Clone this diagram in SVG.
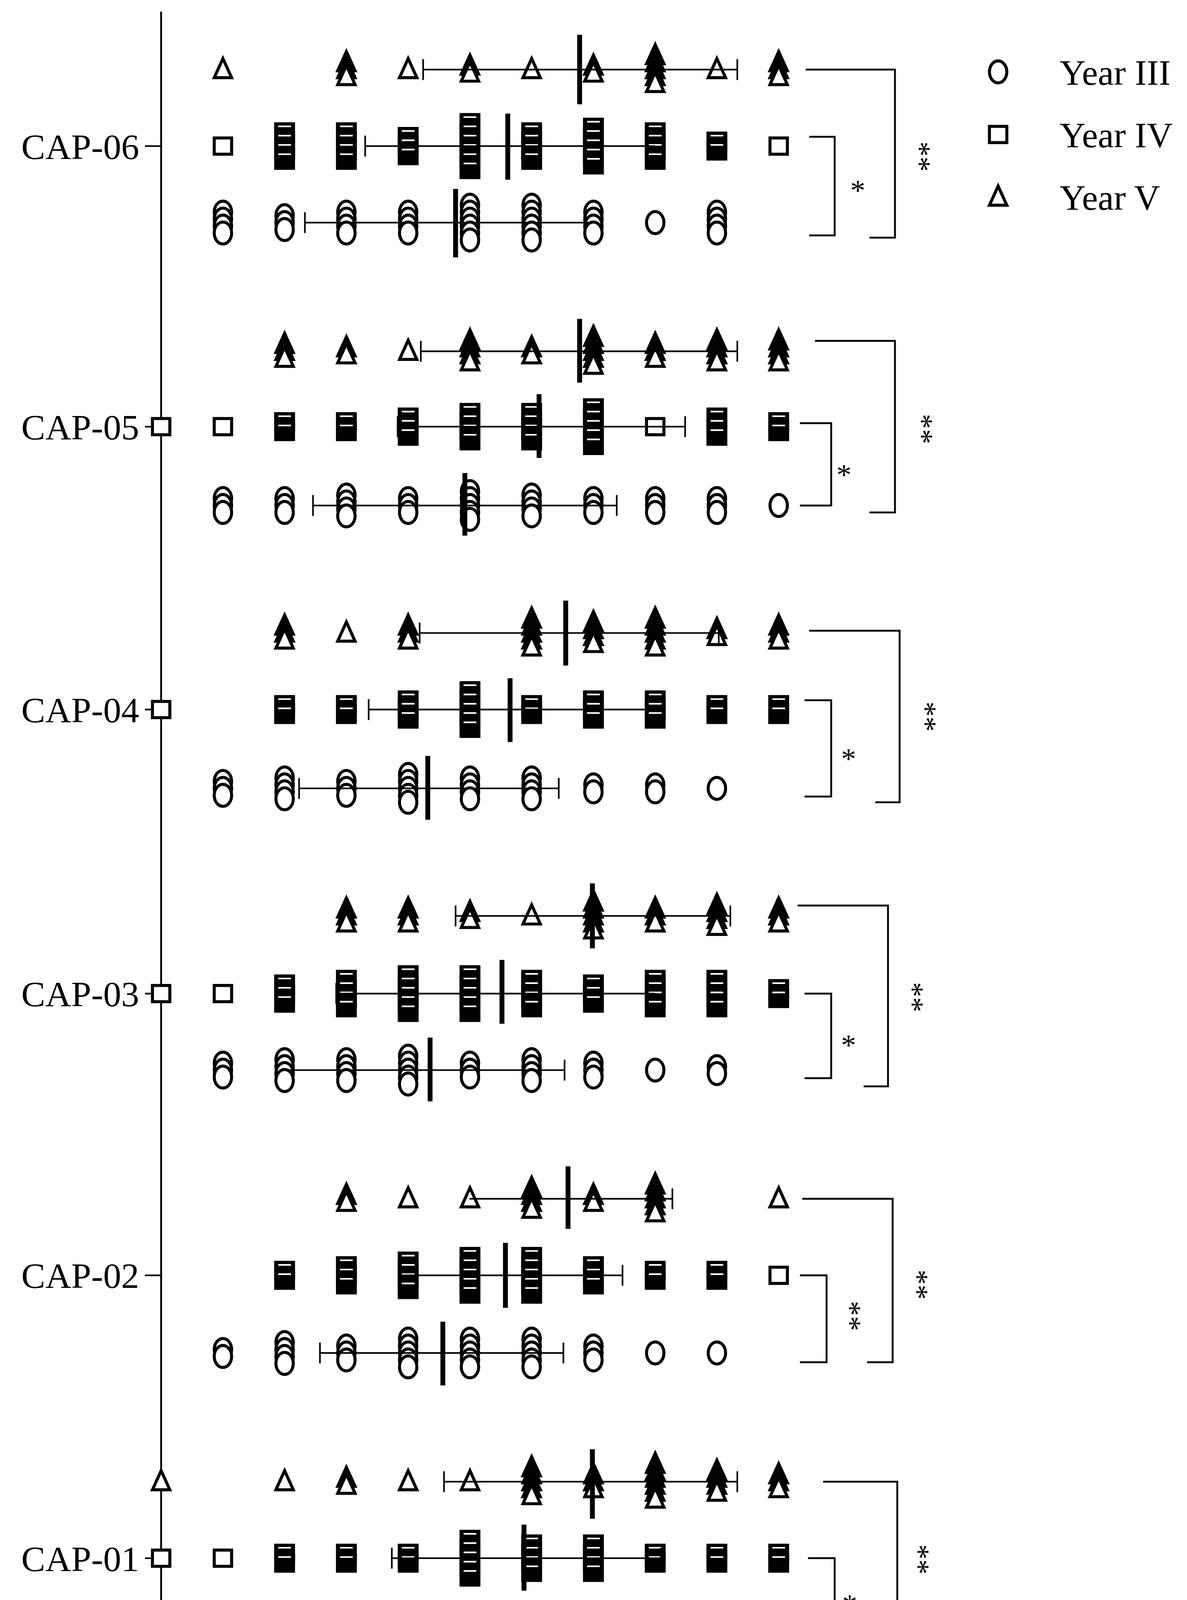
<svg xmlns="http://www.w3.org/2000/svg" xmlns:xlink="http://www.w3.org/1999/xlink" width="3039" height="4681" viewBox="0 0 3039 4681">
<style>
.m{fill:#fff;stroke:#000;stroke-width:2.6}
.e{stroke:#000;stroke-width:1.4;fill:none}
.mean{stroke:#000;stroke-width:4.2}
.br{stroke:#000;stroke-width:1.6;fill:none}
.t{font-family:"Liberation Serif",serif;fill:#000}
</style>
<defs>
<ellipse id="c" class="m" rx="7.5" ry="9.5"/>
<rect id="s" class="m" x="-7.5" y="-7" width="15" height="14"/>
<g id="sb"><rect x="-9" y="-8.5" width="18" height="17" fill="#000"/><line x1="-5.5" y1="-5" x2="5.5" y2="-5" stroke="#fff" stroke-width="1.4"/></g>
<polygon id="t" class="m" points="0,-9.5 7.5,7 -7.5,7"/>
<g id="c1"><use href="#c"/></g>
<g id="c2"><use href="#c" y="-3"/><use href="#c" y="3"/></g>
<g id="c3"><use href="#c" y="-6"/><use href="#c"/><use href="#c" y="6"/></g>
<g id="c4"><use href="#c" y="-9"/><use href="#c" y="-3"/><use href="#c" y="3"/><use href="#c" y="9"/></g>
<g id="c5"><use href="#c" y="-12"/><use href="#c" y="-6"/><use href="#c"/><use href="#c" y="6"/><use href="#c" y="12"/></g>
<g id="c6"><use href="#c" y="-15"/><use href="#c" y="-9"/><use href="#c" y="-3"/><use href="#c" y="3"/><use href="#c" y="9"/><use href="#c" y="15"/></g>
<g id="s1"><use href="#s"/></g>
<g id="s2"><use href="#sb" y="-4"/><use href="#sb" y="4"/></g>
<g id="s3"><use href="#sb" y="-8"/><use href="#sb"/><use href="#sb" y="8"/></g>
<g id="s4"><use href="#sb" y="-12"/><use href="#sb" y="-4"/><use href="#sb" y="4"/><use href="#sb" y="12"/></g>
<g id="s5"><use href="#sb" y="-16"/><use href="#sb" y="-8"/><use href="#sb"/><use href="#sb" y="8"/><use href="#sb" y="16"/></g>
<g id="s6"><use href="#sb" y="-20"/><use href="#sb" y="-12"/><use href="#sb" y="-4"/><use href="#sb" y="4"/><use href="#sb" y="12"/><use href="#sb" y="20"/></g>
<g id="t1"><use href="#t"/></g>
<g id="t2"><use href="#t" y="-3"/><use href="#t" y="3"/></g>
<g id="t3"><use href="#t" y="-6"/><use href="#t"/><use href="#t" y="6"/></g>
<g id="t4"><use href="#t" y="-9"/><use href="#t" y="-3"/><use href="#t" y="3"/><use href="#t" y="9"/></g>
<g id="t5"><use href="#t" y="-12"/><use href="#t" y="-6"/><use href="#t"/><use href="#t" y="6"/><use href="#t" y="12"/></g>
<g id="t6"><use href="#t" y="-15"/><use href="#t" y="-9"/><use href="#t" y="-3"/><use href="#t" y="3"/><use href="#t" y="9"/><use href="#t" y="15"/></g>
</defs>
<rect width="3039" height="4681" fill="#fff"/>
<g transform="scale(2.968)">
<g id="axes">
<line x1="139" y1="10" x2="139" y2="1455" stroke="#000" stroke-width="1.6"/>
<line x1="138" y1="1455" x2="939" y2="1455" stroke="#000" stroke-width="2.6"/>
<g stroke="#000" stroke-width="1.4">
<line x1="139" y1="1455" x2="139" y2="1476"/><line x1="192.3" y1="1455" x2="192.3" y2="1468"/><line x1="245.5" y1="1455" x2="245.5" y2="1468"/><line x1="298.8" y1="1455" x2="298.8" y2="1468"/><line x1="352.1" y1="1455" x2="352.1" y2="1468"/><line x1="405.4" y1="1455" x2="405.4" y2="1476"/><line x1="458.6" y1="1455" x2="458.6" y2="1468"/><line x1="511.9" y1="1455" x2="511.9" y2="1468"/><line x1="565.2" y1="1455" x2="565.2" y2="1468"/><line x1="618.4" y1="1455" x2="618.4" y2="1468"/><line x1="671.7" y1="1455" x2="671.7" y2="1476"/><line x1="725" y1="1455" x2="725" y2="1468"/><line x1="778.2" y1="1455" x2="778.2" y2="1468"/><line x1="831.5" y1="1455" x2="831.5" y2="1468"/><line x1="884.8" y1="1455" x2="884.8" y2="1468"/><line x1="938" y1="1455" x2="938" y2="1476"/>
<line x1="125" y1="126" x2="139" y2="126"/><line x1="125" y1="368" x2="139" y2="368"/><line x1="125" y1="612" x2="139" y2="612"/><line x1="125" y1="857" x2="139" y2="857"/><line x1="125" y1="1100" x2="139" y2="1100"/><line x1="125" y1="1344" x2="139" y2="1344"/>
</g>
<g class="t" font-size="27" font-weight="bold" text-anchor="middle">
<text x="139" y="1509">0</text><text x="405.4" y="1509">5</text><text x="671.7" y="1509">10</text><text x="938" y="1509">15</text>
</g>
<text class="t" x="485" y="1555" font-size="30" text-anchor="middle">Score, confidence in antibiotic prescribing</text>
<g class="t" font-size="31" text-anchor="end">
<text x="120" y="137">CAP-06</text><text x="120" y="379">CAP-05</text><text x="120" y="623">CAP-04</text><text x="120" y="868">CAP-03</text><text x="120" y="1111">CAP-02</text><text x="120" y="1355">CAP-01</text>
</g>
</g>
<g id="legend">
<use href="#c" x="861" y="62"/><use href="#s" x="861" y="116"/><use href="#t" x="861" y="170"/>
<g class="t" font-size="31"><text x="914" y="73">Year III</text><text x="914" y="127">Year IV</text><text x="914" y="181">Year V</text></g>
</g>
<g id="cap06">
<use href="#t1" x="192.3" y="60"/><use href="#t3" x="298.8" y="60"/><use href="#t1" x="352.1" y="60"/><use href="#t2" x="405.4" y="60"/><use href="#t1" x="458.6" y="60"/><use href="#t2" x="511.9" y="60"/><use href="#t5" x="565.2" y="60"/><use href="#t1" x="618.4" y="60"/><use href="#t3" x="671.7" y="60"/>
<use href="#s1" x="192.3" y="126"/><use href="#s4" x="245.5" y="126"/><use href="#s4" x="298.8" y="126"/><use href="#s3" x="352.1" y="126"/><use href="#s6" x="405.4" y="126"/><use href="#s4" x="458.6" y="126"/><use href="#s5" x="511.9" y="126"/><use href="#s4" x="565.2" y="126"/><use href="#s2" x="618.4" y="126"/><use href="#s1" x="671.7" y="126"/>
<use href="#c4" x="192.3" y="192"/><use href="#c3" x="245.5" y="192"/><use href="#c4" x="298.8" y="192"/><use href="#c4" x="352.1" y="192"/><use href="#c6" x="405.4" y="192"/><use href="#c6" x="458.6" y="192"/><use href="#c4" x="511.9" y="192"/><use href="#c1" x="565.2" y="192"/><use href="#c4" x="618.4" y="192"/>
<path class="e" d="M365 60H636M365 51V69M636 51V69M315 126H565M315 117V135M263 192H512M263 183V201"/>
<path class="mean" d="M500 30V90M438 98V155M393 163V222"/>
</g>
<g id="cap05">
<use href="#t3" x="245.5" y="303"/><use href="#t2" x="298.8" y="303"/><use href="#t1" x="352.1" y="303"/><use href="#t4" x="405.4" y="303"/><use href="#t2" x="458.6" y="303"/><use href="#t5" x="511.9" y="303"/><use href="#t3" x="565.2" y="303"/><use href="#t4" x="618.4" y="303"/><use href="#t4" x="671.7" y="303"/>
<use href="#s1" x="139" y="368"/><use href="#s1" x="192.3" y="368"/><use href="#s2" x="245.5" y="368"/><use href="#s2" x="298.8" y="368"/><use href="#s3" x="352.1" y="368"/><use href="#s4" x="405.4" y="368"/><use href="#s4" x="458.6" y="368"/><use href="#s5" x="511.9" y="368"/><use href="#s1" x="565.2" y="368"/><use href="#s3" x="618.4" y="368"/><use href="#s2" x="671.7" y="368"/>
<use href="#c3" x="192.3" y="436"/><use href="#c3" x="245.5" y="436"/><use href="#c4" x="298.8" y="436"/><use href="#c3" x="352.1" y="436"/><use href="#c5" x="405.4" y="436"/><use href="#c4" x="458.6" y="436"/><use href="#c3" x="511.9" y="436"/><use href="#c3" x="565.2" y="436"/><use href="#c3" x="618.4" y="436"/><use href="#c1" x="671.7" y="436"/>
<path class="e" d="M363 303H636M363 294V312M636 294V312M343 368H591M343 359V377M591 359V377M270 436H532M270 427V445M532 427V445"/>
<path class="mean" d="M500 275V330M465 340V395M401 408V462"/>
</g>
<g id="cap04">
<use href="#t3" x="245.5" y="546"/><use href="#t1" x="298.8" y="546"/><use href="#t3" x="352.1" y="546"/><use href="#t5" x="458.6" y="546"/><use href="#t4" x="511.9" y="546"/><use href="#t5" x="565.2" y="546"/><use href="#t2" x="618.4" y="546"/><use href="#t3" x="671.7" y="546"/>
<use href="#s1" x="139" y="612"/><use href="#s2" x="245.5" y="612"/><use href="#s2" x="298.8" y="612"/><use href="#s3" x="352.1" y="612"/><use href="#s5" x="405.4" y="612"/><use href="#s2" x="458.6" y="612"/><use href="#s3" x="511.9" y="612"/><use href="#s3" x="565.2" y="612"/><use href="#s2" x="618.4" y="612"/><use href="#s2" x="671.7" y="612"/>
<use href="#c3" x="192.3" y="680"/><use href="#c4" x="245.5" y="680"/><use href="#c3" x="298.8" y="680"/><use href="#c5" x="352.1" y="680"/><use href="#c4" x="405.4" y="680"/><use href="#c4" x="458.6" y="680"/><use href="#c2" x="511.9" y="680"/><use href="#c2" x="565.2" y="680"/><use href="#c1" x="618.4" y="680"/>
<path class="e" d="M362 546H620M362 537V555M620 537V555M318 612H565M318 603V621M258 680H482M258 671V689M482 671V689"/>
<path class="mean" d="M488 518V574M440 585V640M369 652V707"/>
</g>
<g id="cap03">
<use href="#t3" x="298.8" y="790"/><use href="#t3" x="352.1" y="790"/><use href="#t2" x="405.4" y="790"/><use href="#t1" x="458.6" y="790"/><use href="#t5" x="511.9" y="790"/><use href="#t3" x="565.2" y="790"/><use href="#t4" x="618.4" y="790"/><use href="#t3" x="671.7" y="790"/>
<use href="#s1" x="139" y="857"/><use href="#s1" x="192.3" y="857"/><use href="#s3" x="245.5" y="857"/><use href="#s4" x="298.8" y="857"/><use href="#s5" x="352.1" y="857"/><use href="#s5" x="405.4" y="857"/><use href="#s4" x="458.6" y="857"/><use href="#s3" x="511.9" y="857"/><use href="#s4" x="565.2" y="857"/><use href="#s4" x="618.4" y="857"/><use href="#s2" x="671.7" y="857"/>
<use href="#c3" x="192.3" y="923"/><use href="#c4" x="245.5" y="923"/><use href="#c4" x="298.8" y="923"/><use href="#c5" x="352.1" y="923"/><use href="#c3" x="405.4" y="923"/><use href="#c4" x="458.6" y="923"/><use href="#c3" x="511.9" y="923"/><use href="#c1" x="565.2" y="923"/><use href="#c2" x="618.4" y="923"/>
<path class="e" d="M393 790H630M393 781V799M630 781V799M290 857H565M290 848V866M250 923H487M487 914V932"/>
<path class="mean" d="M511 762V818M433 828V883M371 895V950"/>
</g>
<g id="cap02">
<use href="#t2" x="298.8" y="1034"/><use href="#t1" x="352.1" y="1034"/><use href="#t1" x="405.4" y="1034"/><use href="#t4" x="458.6" y="1034"/><use href="#t2" x="511.9" y="1034"/><use href="#t5" x="565.2" y="1034"/><use href="#t1" x="671.7" y="1034"/>
<use href="#s2" x="245.5" y="1100"/><use href="#s3" x="298.8" y="1100"/><use href="#s4" x="352.1" y="1100"/><use href="#s5" x="405.4" y="1100"/><use href="#s5" x="458.6" y="1100"/><use href="#s3" x="511.9" y="1100"/><use href="#s2" x="565.2" y="1100"/><use href="#s2" x="618.4" y="1100"/><use href="#s1" x="671.7" y="1100"/>
<use href="#c2" x="192.3" y="1167"/><use href="#c4" x="245.5" y="1167"/><use href="#c3" x="298.8" y="1167"/><use href="#c5" x="352.1" y="1167"/><use href="#c5" x="405.4" y="1167"/><use href="#c5" x="458.6" y="1167"/><use href="#c3" x="511.9" y="1167"/><use href="#c1" x="565.2" y="1167"/><use href="#c1" x="618.4" y="1167"/>
<path class="e" d="M405 1034H580M580 1025V1043M345 1100H537M345 1091V1109M537 1091V1109M276 1167H486M276 1158V1176M486 1158V1176"/>
<path class="mean" d="M490 1006V1060M436 1072V1128M382 1140V1195"/>
</g>
<g id="cap01">
<use href="#t1" x="139" y="1278"/><use href="#t1" x="245.5" y="1278"/><use href="#t2" x="298.8" y="1278"/><use href="#t1" x="352.1" y="1278"/><use href="#t1" x="405.4" y="1278"/><use href="#t5" x="458.6" y="1278"/><use href="#t3" x="511.9" y="1278"/><use href="#t6" x="565.2" y="1278"/><use href="#t4" x="618.4" y="1278"/><use href="#t3" x="671.7" y="1278"/>
<use href="#s1" x="139" y="1344"/><use href="#s1" x="192.3" y="1344"/><use href="#s2" x="245.5" y="1344"/><use href="#s2" x="298.8" y="1344"/><use href="#s2" x="352.1" y="1344"/><use href="#s5" x="405.4" y="1344"/><use href="#s4" x="458.6" y="1344"/><use href="#s4" x="511.9" y="1344"/><use href="#s2" x="565.2" y="1344"/><use href="#s2" x="618.4" y="1344"/><use href="#s2" x="671.7" y="1344"/>
<use href="#c5" x="192.3" y="1411"/><use href="#c4" x="245.5" y="1411"/><use href="#c2" x="298.8" y="1411"/><use href="#c4" x="352.1" y="1411"/><use href="#c4" x="405.4" y="1411"/><use href="#c6" x="458.6" y="1411"/><use href="#c2" x="511.9" y="1411"/><use href="#c2" x="565.2" y="1411"/><use href="#c1" x="618.4" y="1411"/>
<path class="e" d="M383 1278H636M383 1269V1287M636 1269V1287M338 1344H570M338 1335V1353M570 1335V1353M248 1411H493M493 1402V1420"/>
<path class="mean" d="M511 1250V1310M452 1315V1372M372 1383V1438"/>
</g>
<g id="connectors">
<path class="br" d="M698 118H720V203H698M695 60H772V205H750"/>
<path class="br" d="M690 365H717V436H690M703 294H772V442H750"/>
<path class="br" d="M694 604H717V687H694M698 544H776V692H755"/>
<path class="br" d="M694 857H717V930H694M688 781H766V937H745"/>
<path class="br" d="M690 1100H713V1175H690M692 1034H770V1175H748"/>
<path class="br" d="M697 1344H720V1413H697M710 1278H774V1417H752"/>
</g>
<g class="t" font-size="26" text-anchor="middle">
<text x="740" y="173">*</text><text x="728" y="418">*</text><text x="732" y="663">*</text><text x="732" y="910">*</text><text x="733" y="1393">*</text>
<text transform="translate(785,135) rotate(90)">**</text>
<text transform="translate(787,370) rotate(90)">**</text>
<text transform="translate(790,618) rotate(90)">**</text>
<text transform="translate(779,860) rotate(90)">**</text>
<text transform="translate(725,1135) rotate(90)">**</text>
<text transform="translate(783,1108) rotate(90)">**</text>
<text transform="translate(784,1345) rotate(90)">**</text>
</g>
</g>
</svg>
